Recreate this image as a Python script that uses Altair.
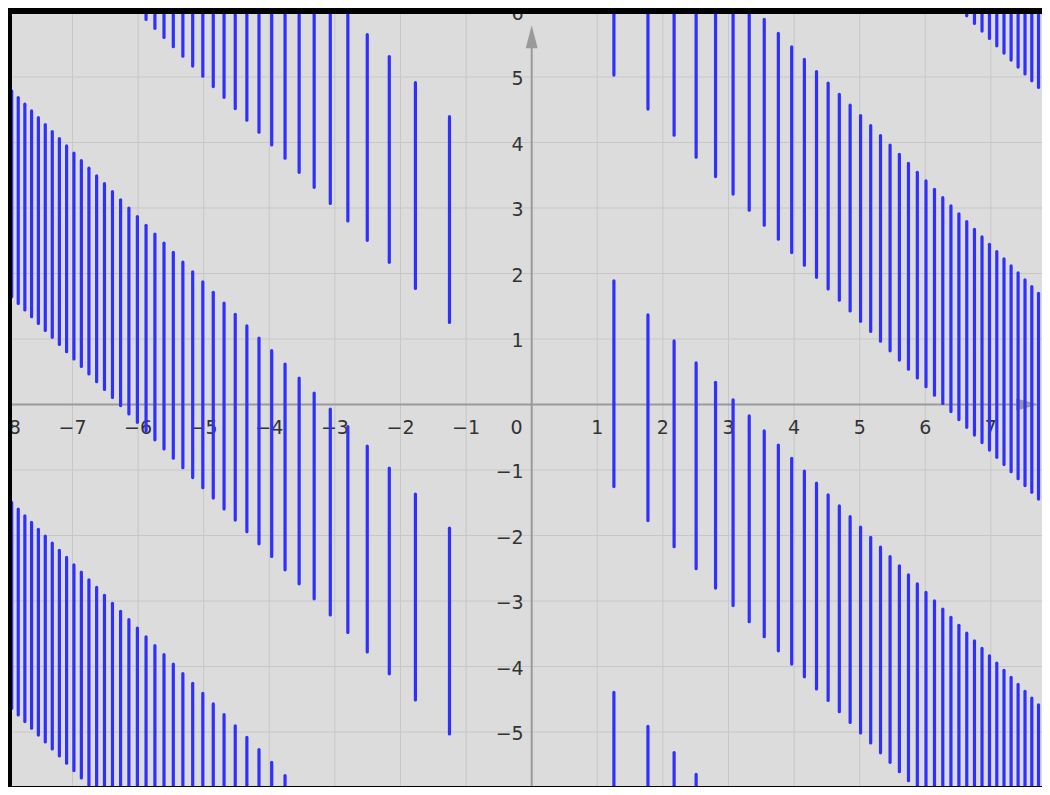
import altair as alt
import pandas as pd

# ---- data ----
# x positions (positive side) of the vertical segments; mirrored for negative side
SEG_X_POS = [1.2533, 1.7725, 2.1708, 2.5066, 2.8025, 3.0700, 3.3160, 3.5449,
             3.7599, 3.9633, 4.1568, 4.3417, 4.5189, 4.6895, 4.8541, 5.0133,
             5.1676, 5.3174, 5.4631, 5.6050, 5.7434, 5.8785, 6.0107, 6.1400,
             6.2666, 6.3907, 6.5124, 6.6319, 6.7493, 6.8647, 6.9781, 7.0898,
             7.1998, 7.3081, 7.4147, 7.5199, 7.6236, 7.7260, 7.8269, 7.9267]
# diagonal bands (slope -1): lower boundary intercepts of x + y, band width
BAND_LOW = [-12.566, -6.283, 0.0, 6.283, 12.566]
BAND_WIDTH = 3.1416

X_TICKS = [-8, -7, -6, -5, -4, -3, -2, -1, 1, 2, 3, 4, 5, 6, 7]
Y_TICKS = [-6, -5, -4, -3, -2, -1, 1, 2, 3, 4, 5, 6]
GRID_X = [-7, -6, -5, -4, -3, -2, -1, 1, 2, 3, 4, 5, 6, 7]
GRID_Y = [-5, -4, -3, -2, -1, 1, 2, 3, 4, 5]

XMIN, XMAX = -7.922, 7.779
YMIN, YMAX = -5.824, 5.962

# ---- tables ----
seg_x = [-v for v in reversed(SEG_X_POS)] + SEG_X_POS
rows = []
for xv in seg_x:
    for c in BAND_LOW:
        y1 = c - xv
        y2 = c + BAND_WIDTH - xv
        if y2 < YMIN or y1 > YMAX:
            continue
        rows.append({"x": xv, "y1": y1, "y2": y2})
segs = pd.DataFrame(rows)

def lab(v):
    return ("\u2212" + str(abs(v))) if v < 0 else str(v)

xlab = pd.DataFrame({"x": X_TICKS, "t": [lab(v) for v in X_TICKS]})
ylab = pd.DataFrame({"y": Y_TICKS, "t": [lab(v) for v in Y_TICKS]})
zero = pd.DataFrame({"x": [0], "y": [0], "t": ["0"]})
gx = pd.DataFrame({"x": GRID_X})
gy = pd.DataFrame({"y": GRID_Y})
axy = pd.DataFrame({"x": [0], "y": [YMIN], "y2": [5.5]})
axx = pd.DataFrame({"y": [0], "x": [XMIN], "x2": [7.45]})
arrow_up = pd.DataFrame({"x": [0], "y": [5.615]})
arrow_right = pd.DataFrame({"x": [7.56], "y": [0]})

xs = alt.Scale(domain=[XMIN, XMAX], nice=False, zero=False)
ys = alt.Scale(domain=[YMIN, YMAX], nice=False, zero=False)

GRID_C = "#c7c7c7"
AXIS_C = "#9a9a9a"
TEXT_C = "#333333"
FONT = "DejaVu Sans"

grid_x = alt.Chart(gx).mark_rule(color=GRID_C, strokeWidth=1).encode(
    x=alt.X("x:Q", scale=xs, axis=None))
grid_y = alt.Chart(gy).mark_rule(color=GRID_C, strokeWidth=1).encode(
    y=alt.Y("y:Q", scale=ys, axis=None))

axis_y = alt.Chart(axy).mark_rule(color=AXIS_C, strokeWidth=2).encode(
    x=alt.X("x:Q", scale=xs, axis=None),
    y=alt.Y("y:Q", scale=ys, axis=None), y2="y2:Q")
axis_x = alt.Chart(axx).mark_rule(color=AXIS_C, strokeWidth=2).encode(
    y=alt.Y("y:Q", scale=ys, axis=None),
    x=alt.X("x:Q", scale=xs, axis=None), x2="x2:Q")

arr_u = alt.Chart(arrow_up).mark_point(
    shape="M0,-1L0.52,1L-0.52,1Z", size=529, filled=True, color=AXIS_C,
    opacity=1, strokeWidth=0).encode(
    x=alt.X("x:Q", scale=xs, axis=None), y=alt.Y("y:Q", scale=ys, axis=None))
arr_r = alt.Chart(arrow_right).mark_point(
    shape="M1,0L-1,0.52L-1,-0.52Z", size=529, filled=True, color=AXIS_C,
    opacity=1, strokeWidth=0).encode(
    x=alt.X("x:Q", scale=xs, axis=None), y=alt.Y("y:Q", scale=ys, axis=None))

x_labels = alt.Chart(xlab).mark_text(
    font=FONT, fontSize=19, color=TEXT_C, align="center",
    baseline="alphabetic", dy=29, clip=True).encode(
    x=alt.X("x:Q", scale=xs, axis=None), y=alt.value(0) if False else alt.Y("zero:Q", scale=ys, axis=None),
    text="t:N").transform_calculate(zero="0")
y_labels = alt.Chart(ylab).mark_text(
    font=FONT, fontSize=19, color=TEXT_C, align="right",
    baseline="alphabetic", dx=-8, dy=8, clip=True).encode(
    y=alt.Y("y:Q", scale=ys, axis=None), x=alt.X("zero:Q", scale=xs, axis=None),
    text="t:N").transform_calculate(zero="0")
zero_label = alt.Chart(zero).mark_text(
    font=FONT, fontSize=19, color=TEXT_C, align="right",
    baseline="alphabetic", dx=-9, dy=29).encode(
    x=alt.X("x:Q", scale=xs, axis=None), y=alt.Y("y:Q", scale=ys, axis=None),
    text="t:N")

segments = alt.Chart(segs).mark_rule(
    color="#2f2fff", strokeWidth=3.2, strokeCap="round", clip=True).encode(
    x=alt.X("x:Q", scale=xs, axis=None),
    y=alt.Y("y1:Q", scale=ys, axis=None), y2="y2:Q")

chart = alt.layer(
    grid_x, grid_y, axis_y, axis_x, arr_u, arr_r,
    x_labels, y_labels, zero_label, segments
).properties(
    width=1030, height=772,
    padding={"left": 4, "top": 6, "right": 0, "bottom": 1},
    autosize=alt.AutoSizeParams(type="none"),
    background="#000000",
).configure_view(fill="#dcdcdc", stroke=None)

chart.save("out.html", embed_options={"renderer": "svg", "actions": False})
